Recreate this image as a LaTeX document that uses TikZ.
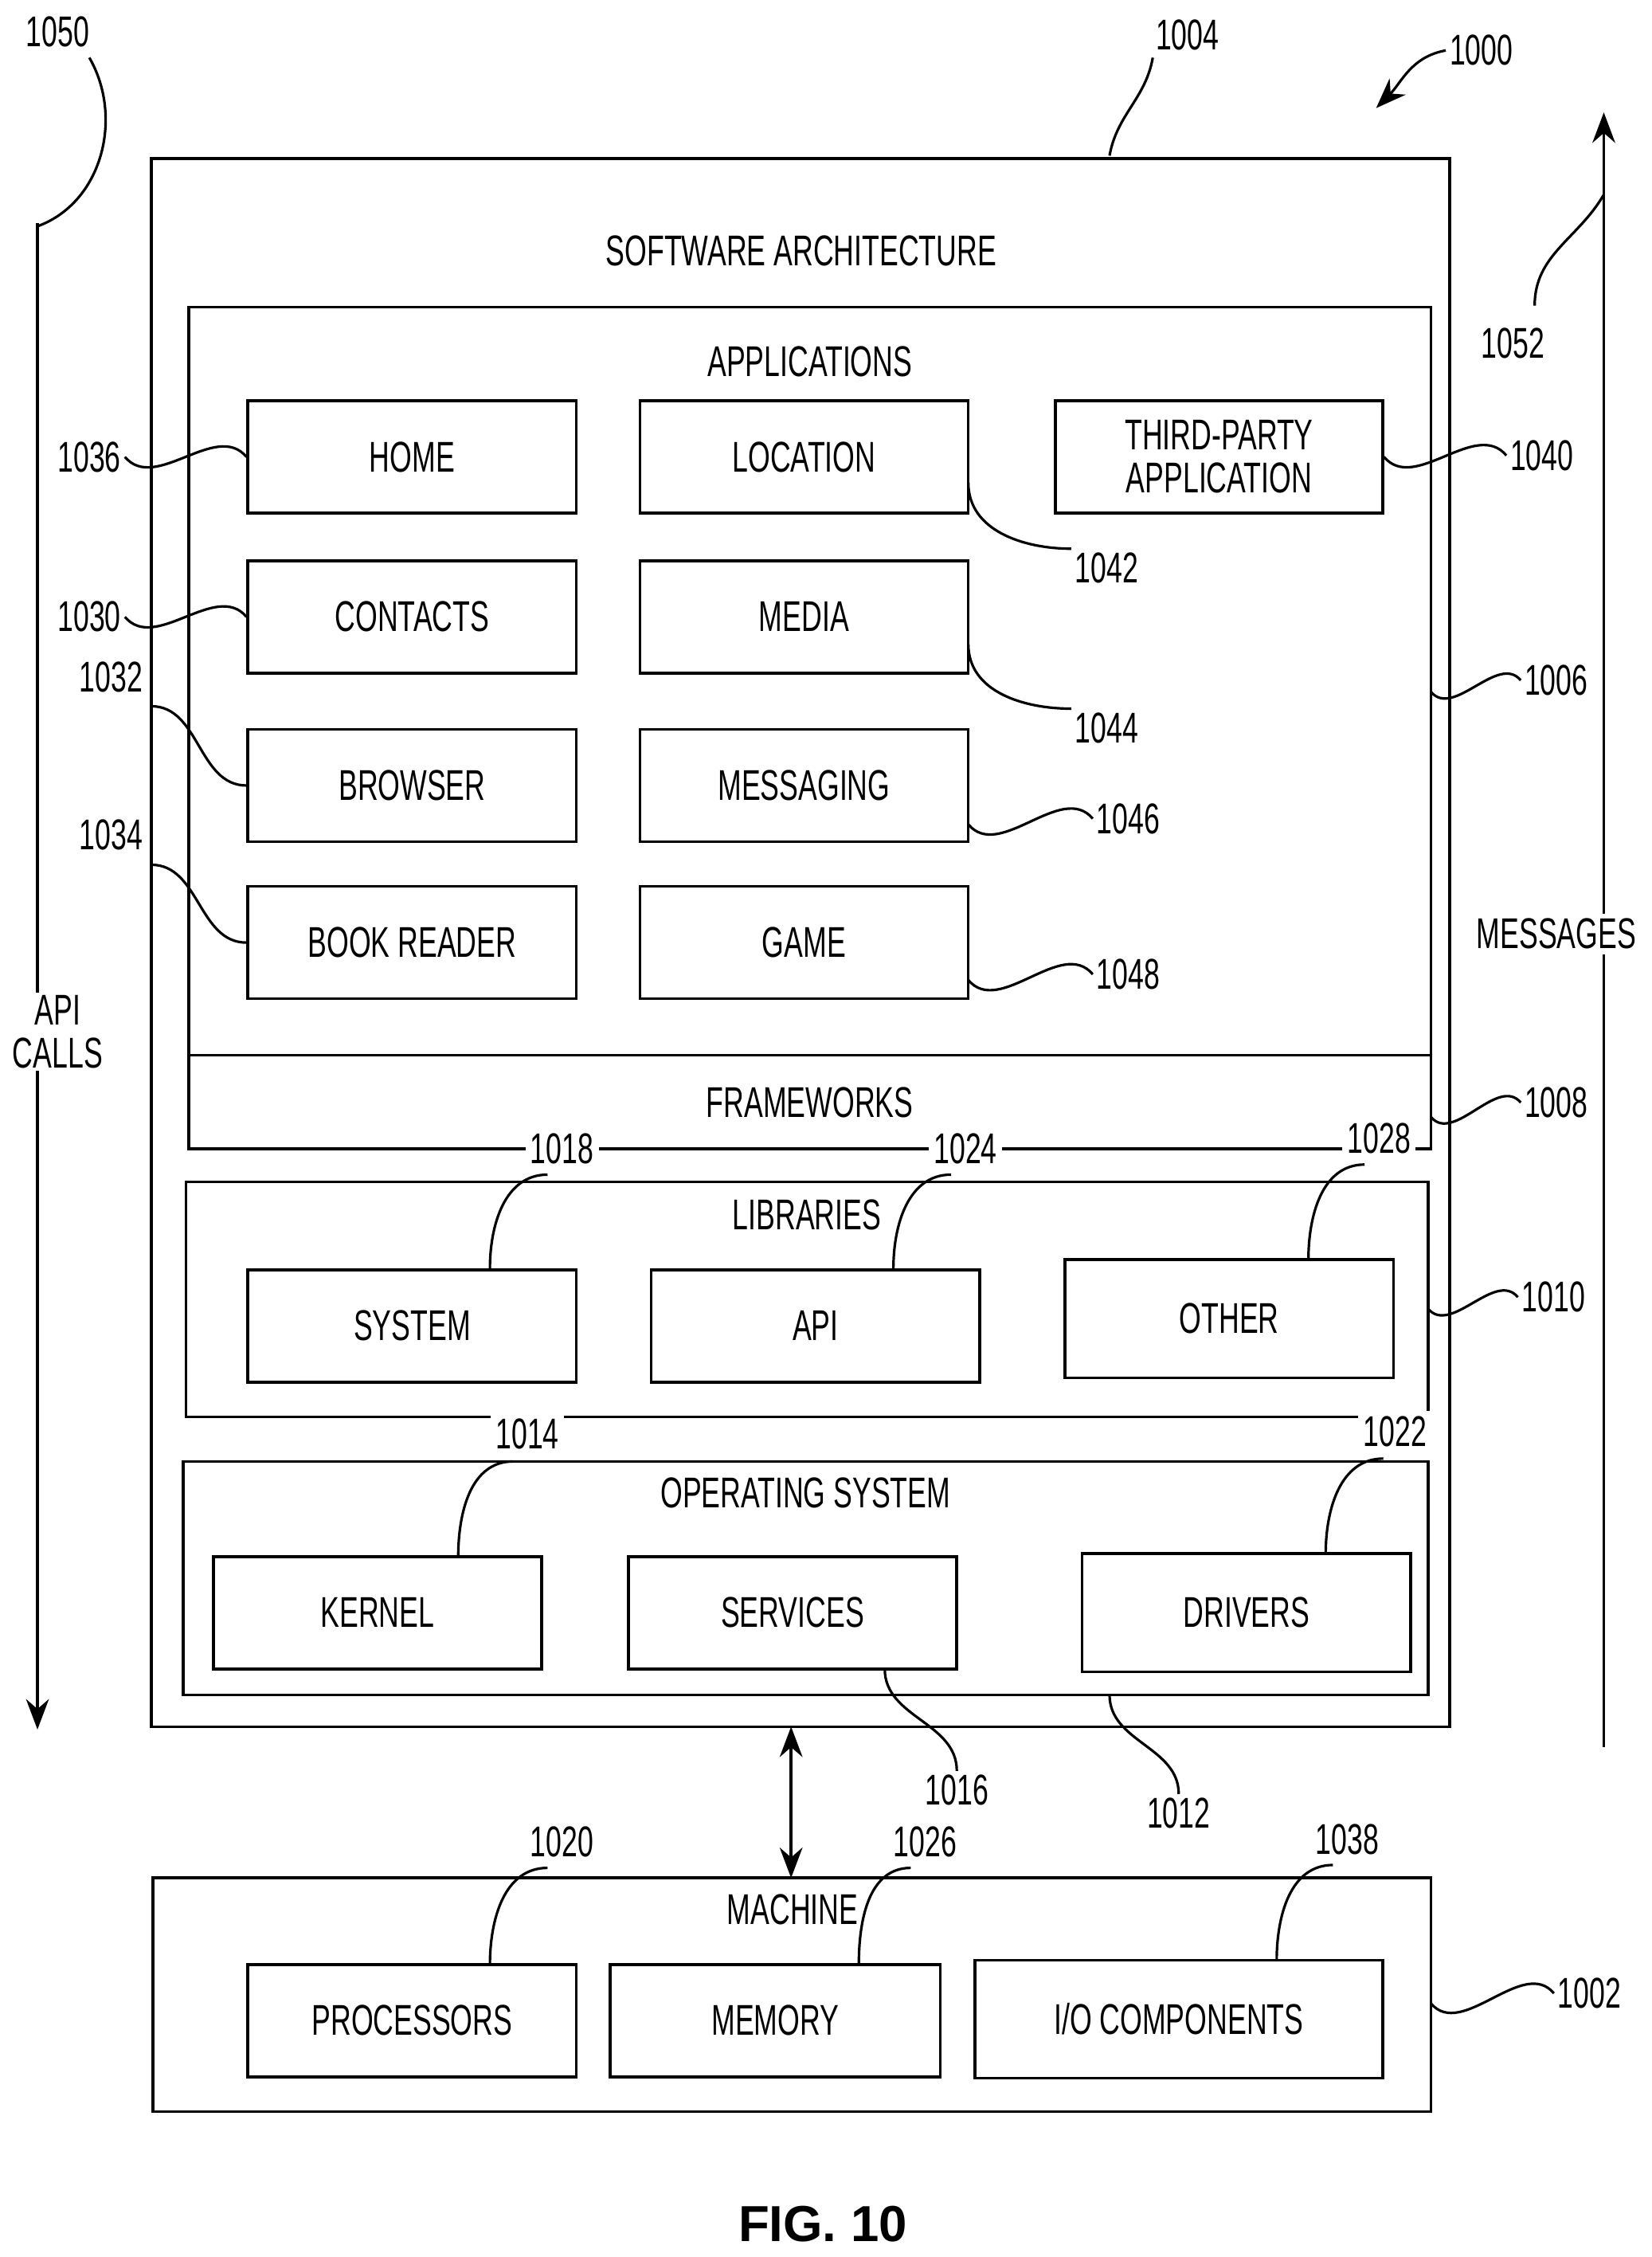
\documentclass[tikz,border=0pt]{standalone}
\usepackage{fontspec}
\setmainfont{Liberation Sans}[FakeStretch=0.66]
\newfontfamily\figfont{Liberation Sans}
\usetikzlibrary{positioning,arrows.meta}
\begin{document}
\begin{tikzpicture}[x=0.02cm,y=-0.02cm,line width=1.1pt,
  every node/.style={font=\fontsize{17}{19}\selectfont,inner sep=1pt},
  blk/.style={draw,minimum width=4.56cm,minimum height=1.56cm,align=center},
  lbl/.style={fill=white,inner sep=2pt},
  lead/.style={line width=1pt},
  wave/.style={out=-50,in=130}]
\useasboundingbox (0,0) rectangle (1146,1566);
% software architecture
\draw (105,110) rectangle (1006,1198);
\node at (556,174) {SOFTWARE ARCHITECTURE};
\draw (131,213) rectangle (993,732);
\node at (562,251) {APPLICATIONS};
\node[blk] (home) at (286,317) {HOME};
\node[blk] (location) at (558,317) {LOCATION};
\node[blk,minimum width=4.54cm] (third) at (846,317) {THIRD-PARTY\\[-2pt]APPLICATION};
\node[blk] (contacts) at (286,428) {CONTACTS};
\node[blk] (media) at (558,428) {MEDIA};
\node[blk] (browser) at (286,545) {BROWSER};
\node[blk] (messaging) at (558,545) {MESSAGING};
\node[blk] (bookreader) at (286,654) {BOOK READER};
\node[blk] (game) at (558,654) {GAME};
% frameworks
\draw (131,732) rectangle (993,797);
\node at (562,765) {FRAMEWORKS};
% libraries
\draw (129,820) rectangle (991,983);
\node at (560,843) {LIBRARIES};
\node[blk] (system) at (286,920) {SYSTEM};
\node[blk] (api) at (566,920) {API};
\node[blk,minimum height=1.64cm] (other) at (853,915) {OTHER};
% operating system
\draw (127,1014) rectangle (991,1176);
\node at (559,1036) {OPERATING SYSTEM};
\node[blk] (kernel) at (262,1119) {KERNEL};
\node[blk] (services) at (550,1119) {SERVICES};
\node[blk,minimum height=1.64cm] (drivers) at (865,1119) {DRIVERS};
% machine
\draw (106,1303) rectangle (993,1465);
\node at (550,1325) {MACHINE};
\node[blk] (processors) at (286,1402) {PROCESSORS};
\node[blk,minimum width=4.58cm] (memory) at (538,1402) {MEMORY};
\node[blk,minimum width=5.66cm,minimum height=1.64cm] (io) at (818,1401) {I/O COMPONENTS};
% arrows
\coordinate (swb) at (549,1198);
\coordinate (mt) at (549,1303);
\draw[{Stealth[length=12pt]}-{Stealth[length=12pt]}] (swb) -- (mt);
\coordinate (apitop) at (26,155);
\coordinate (apibot) at (26,1200);
\draw[-{Stealth[length=12pt]}] (apitop) -- (apibot);
\node[fill=white,align=center] (apicalls) at (40,716) {API\\[-2pt]CALLS};
\coordinate (msgbot) at (1113,1212);
\coordinate (msgtop) at (1113,78);
\draw[-{Stealth[length=12pt]}] (msgbot) -- (msgtop);
\node[lbl] (messages) at (1080,648) {MESSAGES};
% reference numerals
\node (n1000) at (1028,35) {1000};
\coordinate (a1000) at (955,75);
\draw[lead,-{Stealth[length=12pt]}] (n1000.west) to[out=190,in=45] (a1000);
\node (n1050) at (40,22) {1050};
\draw[lead] (62,40) to[out=-60,in=20] (26,157);
\node (n1004) at (824,24) {1004};
\draw[lead] (800,40) to[out=-100,in=80] (770,108);
\node (n1052) at (1050,238) {1052};
\draw[lead] (1065,212) to[out=90,in=-120] (1113,135);
\node (n1036) at (62,317) {1036};
\draw[lead] (n1036.east) to[wave] (home.west);
\node (n1030) at (62,428) {1030};
\draw[lead] (n1030.east) to[wave] (contacts.west);
\node (n1032) at (77,470) {1032};
\draw[lead] (105,490) to[out=0,in=180] (browser.west);
\node (n1034) at (77,579) {1034};
\draw[lead] (105,600) to[out=0,in=180] (bookreader.west);
\node (n1040) at (1070,316) {1040};
\draw[lead] (third.east) to[wave] (n1040.west);
\node (n1042) at (768,394) {1042};
\draw[lead] (672,335) to[out=-90,in=180] (n1042.north west);
\node (n1044) at (768,505) {1044};
\draw[lead] (672,447) to[out=-90,in=180] (n1044.north west);
\node (n1046) at (783,568) {1046};
\draw[lead] (672,572) to[wave] (n1046.west);
\node (n1048) at (783,676) {1048};
\draw[lead] (672,680) to[wave] (n1048.west);
\node (n1006) at (1080,472) {1006};
\draw[lead] (993,480) to[wave] (n1006.west);
\node (n1008) at (1080,765) {1008};
\draw[lead] (993,775) to[wave] (n1008.west);
\node (n1010) at (1078,900) {1010};
\draw[lead] (991,908) to[wave] (n1010.west);
\node (n1002) at (1103,1383) {1002};
\draw[lead] (993,1390) to[wave] (n1002.west);
\node[lbl] (n1018) at (390,797) {1018};
\draw[lead] (380,815) to[out=180,in=90] (340,880);
\node[lbl] (n1024) at (670,797) {1024};
\draw[lead] (660,815) to[out=180,in=90] (620,880);
\node[lbl] (n1028) at (957,790) {1028};
\draw[lead] (947,808) to[out=180,in=90] (908,874);
\node[lbl] (n1014) at (366,995) {1014};
\draw[lead] (356,1014) to[out=180,in=90] (318,1080);
\node[lbl] (n1022) at (968,993) {1022};
\draw[lead] (960,1012) to[out=180,in=90] (920,1078);
\node (n1016) at (664,1242) {1016};
\draw[lead] (614,1158) to[out=-90,in=90] (n1016.north);
\node (n1012) at (818,1258) {1012};
\draw[lead] (770,1176) to[out=-90,in=90] (n1012.north);
\node (n1020) at (390,1278) {1020};
\draw[lead] (380,1296) to[out=180,in=90] (340,1363);
\node (n1026) at (642,1278) {1026};
\draw[lead] (632,1296) to[out=180,in=90] (596,1363);
\node (n1038) at (935,1276) {1038};
\draw[lead] (925,1294) to[out=180,in=90] (886,1360);
\node[font=\figfont\bfseries\fontsize{20}{22}\selectfont] (fig) at (571,1543) {FIG. 10};
\end{tikzpicture}
\end{document}
